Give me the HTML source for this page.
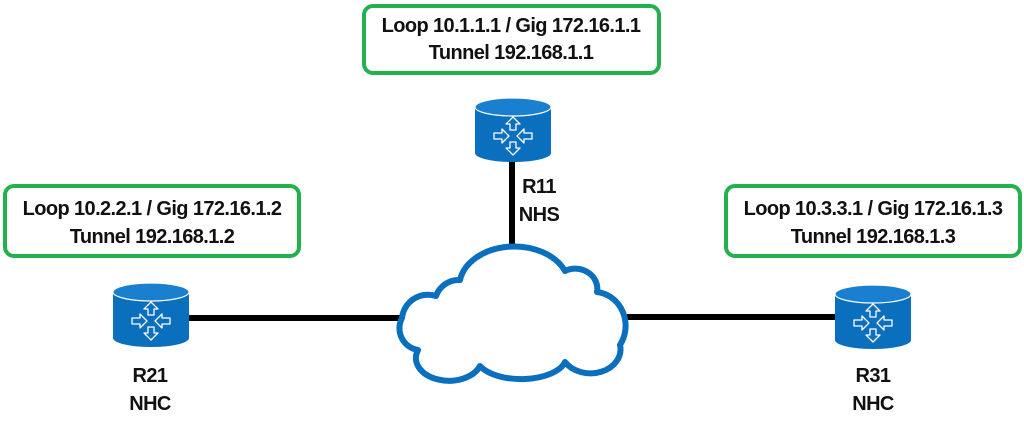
<!DOCTYPE html>
<html><head><meta charset="utf-8"><style>
html,body{margin:0;padding:0;background:#fff;}
svg{display:block}
text{font-family:"Liberation Sans",sans-serif;font-weight:bold;fill:#111;}
</style></head><body>
<svg width="1024" height="421" viewBox="0 0 1024 421" xmlns="http://www.w3.org/2000/svg">
<defs>
<g id="rt">
  <path d="M0 9 L0 55 A38 9 0 0 0 76 55 L76 9 Z" fill="#0a6fbd"/>
  <ellipse cx="38" cy="9" rx="38" ry="9" fill="#1b7fd0" stroke="#fff" stroke-width="1.2"/>
  <g fill="none" stroke="#fff" stroke-width="1.3" stroke-linejoin="round">
    <path d="M38 19 L31 26 L35 26 L35 32 L41 32 L41 26 L45 26 Z"/>
    <path d="M38 57 L31 50 L35 50 L35 44 L41 44 L41 50 L45 50 Z"/>
    <path d="M34 38 L27 31 L27 35 L19 35 L19 41 L27 41 L27 45 Z"/>
    <path d="M42 38 L49 31 L49 35 L57 35 L57 41 L49 41 L49 45 Z"/>
  </g>
</g>
</defs>
<g stroke="#000" stroke-width="6">
  <line x1="512" y1="160" x2="512" y2="262"/>
  <line x1="188" y1="318" x2="402" y2="318"/>
  <line x1="626" y1="317" x2="838" y2="317"/>
</g>
<path d="M418 350 A22 22 0 0 1 402 318 A26 26 0 0 1 436 296 A24 24 0 0 1 460 280 A55 40 0 0 1 565 271 A22 20 0 0 1 597 292 A32 34 0 0 1 620 345 A30 24 0 0 1 565 362 A45 22 0 0 1 480 366 A32 22 0 0 1 418 350 Z" fill="#fff" stroke="#0a6fbd" stroke-width="6" stroke-linejoin="round"/>
<use href="#rt" x="475" y="98"/>
<use href="#rt" x="113" y="283"/>
<use href="#rt" x="835" y="285"/>
<g fill="#fff" stroke="#22b14c" stroke-width="4">
  <rect x="364" y="6" width="295" height="67" rx="9"/>
  <rect x="5" y="186" width="294" height="70" rx="9"/>
  <rect x="726" y="186" width="294" height="70" rx="9"/>
</g>
<g font-size="20" text-anchor="middle" letter-spacing="-0.6">
  <text x="511" y="32">Loop 10.1.1.1 / Gig 172.16.1.1</text>
  <text x="511" y="59">Tunnel 192.168.1.1</text>
  <text x="152" y="215">Loop 10.2.2.1 / Gig 172.16.1.2</text>
  <text x="152" y="243">Tunnel 192.168.1.2</text>
  <text x="873" y="215">Loop 10.3.3.1 / Gig 172.16.1.3</text>
  <text x="873" y="243">Tunnel 192.168.1.3</text>
  <text x="150" y="382">R21</text>
  <text x="150" y="410">NHC</text>
  <text x="873" y="382">R31</text>
  <text x="873" y="410">NHC</text>
  <text x="539" y="193">R11</text>
  <text x="539" y="221">NHS</text>
</g>
</svg>
</body></html>
